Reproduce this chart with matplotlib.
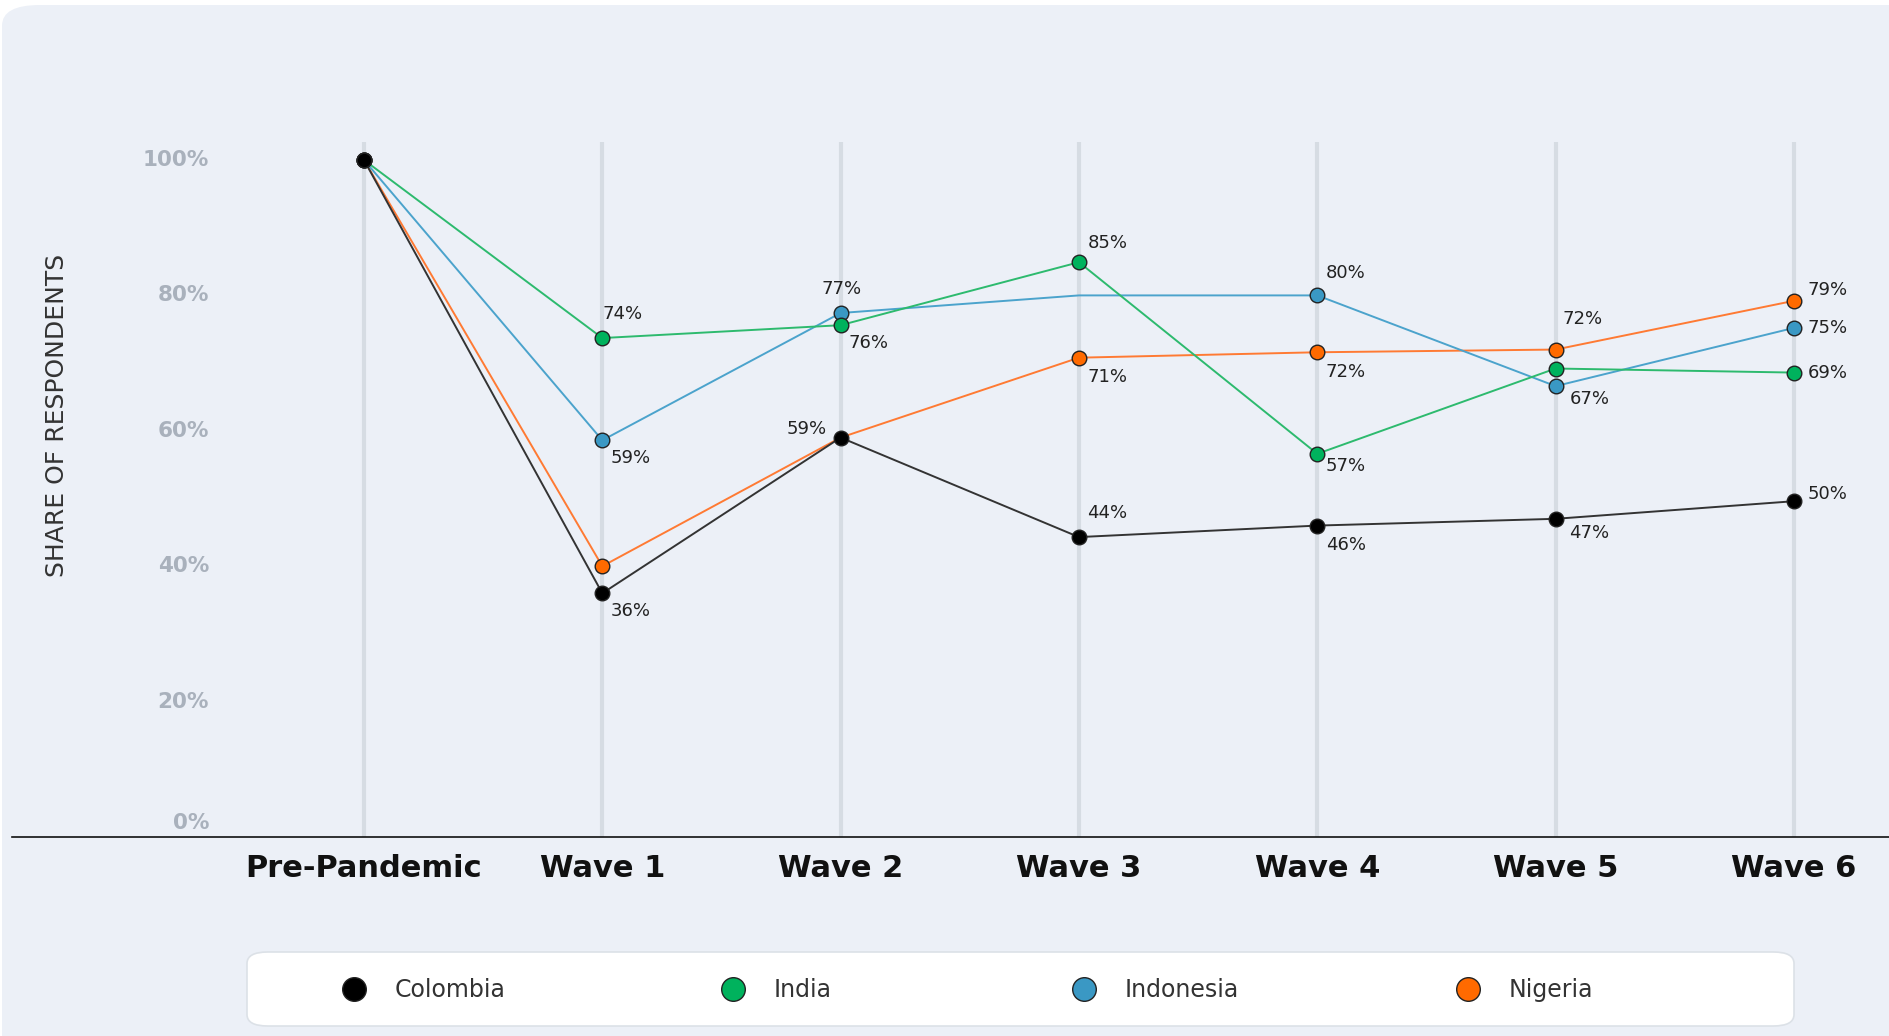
# Share of respondents by survey wave, four countries.
import matplotlib
matplotlib.use("Agg")
from matplotlib import pyplot as plt
from matplotlib.patches import FancyBboxPatch
from matplotlib.lines import Line2D
import matplotlib.transforms as mtransforms

waves = ["Pre-Pandemic", "Wave 1", "Wave 2", "Wave 3", "Wave 4", "Wave 5", "Wave 6"]
countries = ["Colombia", "India", "Indonesia", "Nigeria"]

colombia = [100, 36, 59, 44.3, 46, 47, 49.6]
india = [100, 73.7, 75.6, 84.9, 56.6, 69.2, 68.6]
indonesia = [100, 58.6, 77.4, 80, 80, 66.6, 75.2]
nigeria = [100, 40, 59, 70.8, 71.6, 72, 79.2]

y_ticks = [0, 20, 40, 60, 80, 100]

# which points carry a marker (Indonesia has none at Wave 3)
marked = {
    "Colombia": [0, 1, 2, 3, 4, 5, 6],
    "India": [0, 1, 2, 3, 4, 5, 6],
    "Indonesia": [0, 1, 2, 4, 5, 6],
    "Nigeria": [0, 1, 3, 4, 5, 6],
}

series = {"Colombia": colombia, "India": india, "Indonesia": indonesia, "Nigeria": nigeria}
line_colors = {"Colombia": "#333333", "India": "#2DBA6E", "Indonesia": "#4BA3CC", "Nigeria": "#FF7A33"}
dot_colors = {"Colombia": "#000000", "India": "#00B25D", "Indonesia": "#3A98C4", "Nigeria": "#FF6A00"}

# (country, wave index, dx pts, dy pts, ha)
point_labels = [
    ("India", 1, 0, 17, "left"),
    ("Indonesia", 1, 6, -13, "left"),
    ("Colombia", 1, 6, -13, "left"),
    ("Indonesia", 2, 1, 17, "center"),
    ("India", 2, 6, -13, "left"),
    ("Colombia", 2, -10, 6, "right"),
    ("India", 3, 6, 14, "left"),
    ("Nigeria", 3, 6, -14, "left"),
    ("Colombia", 3, 6, 17, "left"),
    ("Indonesia", 4, 6, 16, "left"),
    ("Nigeria", 4, 6, -14, "left"),
    ("India", 4, 6, -9, "left"),
    ("Colombia", 4, 6, -14, "left"),
    ("Nigeria", 5, 5, 22, "left"),
    ("Indonesia", 5, 10, -9, "left"),
    ("Colombia", 5, 10, -10, "left"),
    ("Nigeria", 6, 10, 8, "left"),
    ("Indonesia", 6, 10, 0, "left"),
    ("India", 6, 10, 0, "left"),
    ("Colombia", 6, 10, 5, "left"),
]

W, H = 1889, 1036
fig = plt.figure(figsize=(W / 100, H / 100), dpi=100)
fig.patch.set_facecolor("white")
bg = "#ECF0F7"
fig.patches.append(FancyBboxPatch((2 / W, -0.05), 1.1, 1 - 5 / H + 0.05,
                                  boxstyle="round,pad=0,rounding_size=0.02",
                                  transform=fig.transFigure, facecolor=bg,
                                  edgecolor="none", zorder=-10))

ax = fig.add_axes([12 / W, 1 - 837 / H, 1 - 12 / W, (837 - 142) / H])
ax.set_facecolor("none")
ytop = (837 - 142) / 6.77
ax.set_ylim(0, ytop)
ax.set_xlim(-1.477, 6.399)

x = list(range(len(waves)))
ax.vlines(x, 0, ytop, color="#D6DCE3", lw=3, zorder=0)

order = ["Nigeria", "Indonesia", "India", "Colombia"]
for i, name in enumerate(order):
    ax.plot(x, series[name], color=line_colors[name], lw=1.4, zorder=2 + i,
            clip_on=False)
    mx = marked[name]
    ax.plot(mx, [series[name][k] for k in mx], ls="none", marker="o",
            ms=10.5, mfc=dot_colors[name], mec="#222222", mew=1.0,
            zorder=6 + i, clip_on=False)

for name, k, dx, dy, ha in point_labels:
    ax.annotate(f"{round(series[name][k])}%", (x[k], series[name][k]),
                xytext=(dx, dy), textcoords="offset points", ha=ha, va="center",
                fontsize=13, color="#222222", family="DejaVu Sans", zorder=20)

for s in ["top", "right", "left"]:
    ax.spines[s].set_visible(False)
ax.spines["bottom"].set_color("#111111")
ax.spines["bottom"].set_linewidth(1.2)

ax.set_xticks(x)
ax.set_xticklabels(waves, fontsize=22, fontweight="bold", family="DejaVu Sans", color="#111111")
ax.tick_params(axis="x", length=0, pad=12)
ax.set_yticks([])

ytrans = mtransforms.blended_transform_factory(fig.transFigure, ax.transData)
for t in y_ticks:
    off = mtransforms.offset_copy(ytrans, fig=fig, x=0, y=14 if t == 0 else 0, units="dots")
    fig.text(209 / W, t, f"{t}%", transform=off, ha="right", va="center",
             fontsize=15.5, fontweight="bold", color="#A9B1BC", family="DejaVu Sans")

fig.text(57 / W, 1 - 415 / H, "SHARE OF RESPONDENTS", rotation=90, ha="center",
         va="center", fontsize=18, color="#333333", family="DejaVu Sans")

# legend panel
fig.patches.append(FancyBboxPatch((247 / W, 1 - 1026 / H), (1794 - 247) / W, 74 / H,
                                  boxstyle="round,pad=0,rounding_size=0.011",
                                  transform=fig.transFigure, facecolor="white",
                                  edgecolor="#DCE1E7", lw=1.2, zorder=1))
legend_x = [351, 730, 1081, 1465]  # pixel centre of each legend dot
for c, lx in zip(countries, legend_x):
    h = Line2D([], [], ls="none", marker="o", ms=17, mfc=dot_colors[c],
               mec="#222222", mew=1.0)
    leg = fig.legend([h], [c], loc="center left", frameon=False,
                     bbox_to_anchor=((lx - 30) / W, 1 - 990 / H), handlelength=1.0,
                     handletextpad=1.23, prop={"family": "DejaVu Sans", "size": 17})
    for t in leg.get_texts():
        t.set_color("#333333")

fig.savefig("out.png", dpi=100, facecolor=fig.get_facecolor())
